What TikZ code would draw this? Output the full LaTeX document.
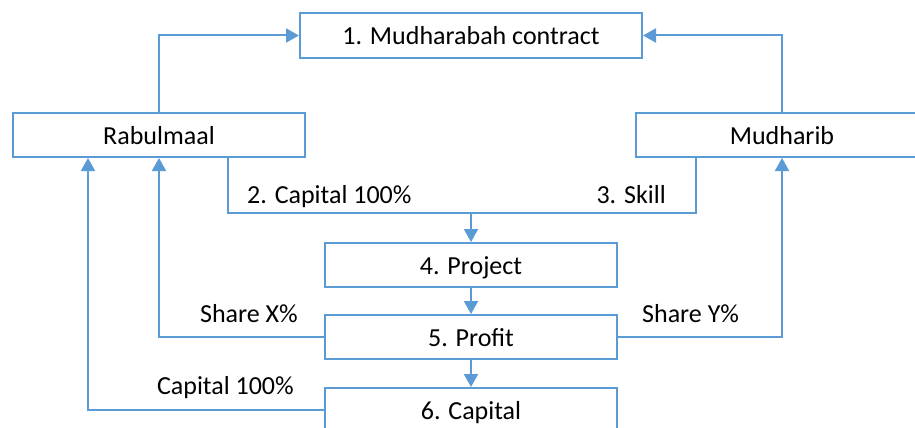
\documentclass[tikz,border=0pt]{standalone}
\usepackage{fontspec}
\setmainfont{Carlito}
\usetikzlibrary{arrows.meta}
\definecolor{flowblue}{HTML}{5B9BD5}

\begin{document}
\begin{tikzpicture}[x=1pt,y=-1pt,
    box/.style={draw=flowblue,line width=2pt,minimum width=292pt,minimum height=44pt,
        inner sep=0pt,text height=21pt,text depth=3pt,font=\fontsize{26}{30}\selectfont},
    link/.style={draw=flowblue,line width=2pt},
    arr/.style={link,-{Triangle[length=13pt,width=14pt]}},
    lbl/.style={inner sep=0pt,font=\fontsize{26}{30}\selectfont}]
            \clip (0,0) rectangle (915,428);

            \node[box,minimum width=342pt,minimum height=45pt] (contract) at (471,35.5) {1. Mudharabah contract};
            \node[box] (rab) at (159,135) {Rabulmaal};
            \node[box] (mud) at (782,135) {Mudharib};
            \node[box] (proj) at (471,265) {4. Project};
            \node[box] (profit) at (471,337) {5. Profit};
            \node[box] (capital) at (471,410) {6. Capital};

            \draw[arr] (rab.north) |- (contract.west);
            \draw[arr] (mud.north) |- (contract.east);

            \coordinate (meet) at ([yshift=29pt]proj.north);
            \draw[link] ([xshift=-78pt]rab.south east) |- (meet) -| ([xshift=61pt]mud.south west);
            \draw[arr] (meet) -- (proj.north);
            \path (247,203) node[lbl,anchor=base west] (capin) {2. Capital 100\%};
            \path (666,203) node[lbl,anchor=base east] (skill) {3. Skill};

            \draw[arr] (proj.south) -- (profit.north);
            \draw[arr] (profit.south) -- (capital.north);

            \draw[arr] (profit.west) -| (rab.south);
            \path (298,322) node[lbl,anchor=base east] (sharex) {Share X\%};
            \draw[arr] (profit.east) -| (mud.south);
            \path (642,322) node[lbl,anchor=base west] (sharey) {Share Y\%};
            \draw[arr] (capital.west) -| ([xshift=76pt]rab.south west);
            \path (294,394) node[lbl,anchor=base east] (capout) {Capital 100\%};
        \end{tikzpicture}
\end{document}
